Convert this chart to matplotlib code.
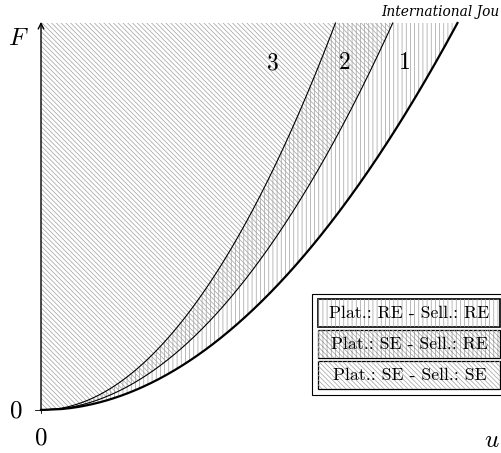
import numpy as np
import matplotlib
matplotlib.use("Agg")
import matplotlib.pyplot as plt
from matplotlib.patches import Rectangle

plt.rcParams['mathtext.fontset'] = 'cm'
plt.rcParams['hatch.linewidth'] = 0.5

# stiffness coefficients of the three boundaries, F = k * u**2
curve_ids = ['1', '2', '3']
curve_k = [1.22, 1.71, 2.44]
curve_lw = [1.6, 0.8, 0.8]
F_max = 1.0

legend_labels = ['Plat.: RE - Sell.: RE',
                 'Plat.: SE - Sell.: RE',
                 'Plat.: SE - Sell.: SE']
legend_hatches = ['||||', '\\' * 7 + '||||', '\\' * 7]

hatch_gray = '#a0a0a0'

fig = plt.figure(figsize=(5.01, 4.53), dpi=100)
ax = fig.add_axes([0, 0, 1, 1])
ax.set_xlim(-41 / 460, 1.0)
ax.set_ylim(-43 / 387, 1 + 23 / 387)

F = np.linspace(0, F_max, 400)
u_of = {cid: np.sqrt(F / k) for cid, k in zip(curve_ids, curve_k)}

# diagonal hatch up to boundary 2, vertical hatch between boundaries 3 and 1
ax.fill_betweenx(F, 0, u_of['2'], facecolor='none', edgecolor=hatch_gray,
                 linewidth=0, hatch='\\' * 7)
ax.fill_betweenx(F, u_of['3'], u_of['1'], facecolor='none', edgecolor=hatch_gray,
                 linewidth=0, hatch='||||')

for cid, lw in zip(curve_ids, curve_lw):
    ax.plot(u_of[cid], F, color='black', lw=lw)

# region numbers near the top
for cid, u_lab in zip(curve_ids, [0.789, 0.659, 0.502]):
    ax.text(u_lab, 0.899, '$' + cid + '$', fontsize=17,
            ha='center', va='center')

# axes with arrows
for s in ['top', 'right', 'left', 'bottom']:
    ax.spines[s].set_visible(False)
ax.annotate('', xy=(0, 1.003), xytext=(0, 0),
            arrowprops=dict(arrowstyle='->', lw=1.0, color='black',
                            shrinkA=0, shrinkB=0))
ax.annotate('', xy=(1.006, 0), xytext=(0, 0),
            arrowprops=dict(arrowstyle='->', lw=1.0, color='black',
                            shrinkA=0, shrinkB=0))
ax.plot([0, 0], [0, -0.008], color='black', lw=0.6)
ax.plot([0, -0.012], [0, 0], color='black', lw=0.6)
ax.set_xticks([])
ax.set_yticks([])

ax.text(-0.05, 0.961, '$F$', fontsize=18, ha='center', va='center')
ax.text(0.98, -0.078, '$u$', fontsize=18, ha='center', va='center')
ax.text(-0.054, 0.0, '$0$', fontsize=18, ha='center', va='center')
ax.text(0.0, -0.072, '$0$', fontsize=18, ha='center', va='center')

# legend drawn as stacked hatched boxes
W, H = 501.0, 453.0
fig.patches.append(Rectangle((311.7 / W, 1 - 395 / H), 200 / W, 101 / H,
                             transform=fig.transFigure, facecolor='white',
                             edgecolor='black', lw=0.8, zorder=3))
box_tops = [299, 330, 361]
for i, (top, lab, hatch) in enumerate(zip(box_tops, legend_labels, legend_hatches)):
    fig.patches.append(Rectangle((318 / W, 1 - (top + 28) / H), 182 / W, 28 / H,
                                 transform=fig.transFigure, facecolor='white',
                                 edgecolor='black', lw=1.2 if i == 0 else 0.9,
                                 zorder=4))
    fig.patches.append(Rectangle((318 / W, 1 - (top + 28) / H), 182 / W, 28 / H,
                                 transform=fig.transFigure, facecolor='none',
                                 edgecolor=hatch_gray, lw=0, hatch=hatch, zorder=5))
    fig.text(409.5 / W, 1 - (top + 14) / H, lab, fontsize=12.8, family='cmr10',
             ha='center', va='center', zorder=6)

fig.text(381 / W, 1 - 12 / H, 'International Jou', fontsize=9.9,
         family='DejaVu Serif', style='italic', ha='left', va='center')

fig.savefig('out.png', dpi=100)
